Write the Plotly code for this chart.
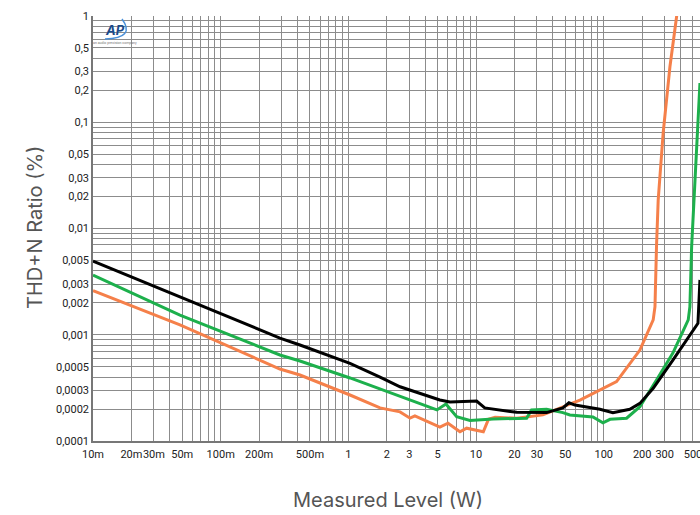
import plotly.graph_objects as go

# ---- data (Measured level in W, THD+N in %) ----
black_x = [0.01, 0.048, 0.291, 0.418, 1.03, 1.77, 2.54, 5.21, 6.25, 10.1, 11.7, 20.8, 35.7, 47.9, 53.4, 59.5, 93.4, 118, 160, 192, 244, 348, 547, 567]
black_y = [0.00494, 0.00227, 0.00093, 0.000801, 0.000538, 0.0004, 0.000324, 0.000243, 0.000233, 0.000238, 0.000205, 0.000186, 0.000185, 0.000205, 0.000229, 0.000218, 0.000199, 0.000185, 0.000199, 0.000226, 0.000313, 0.000578, 0.00128, 0.00328]

green_x = [0.01, 0.048, 0.291, 0.418, 1.03, 2.54, 4.94, 5.81, 7.05, 8.96, 13.6, 24.9, 27.2, 35.7, 47.9, 54.3, 82.3, 98.6, 112, 151, 192, 259, 348, 459, 473, 488, 518, 567]
green_y = [0.00365, 0.00153, 0.000645, 0.000566, 0.000392, 0.000265, 0.000196, 0.000223, 0.000169, 0.000156, 0.000161, 0.000164, 0.000196, 0.000199, 0.000185, 0.000176, 0.000168, 0.000148, 0.00016, 0.000164, 0.00021, 0.000375, 0.000673, 0.00138, 0.00184, 0.00674, 0.0286, 0.234]

orange_x = [0.01, 0.048, 0.291, 0.418, 1.03, 1.77, 2.54, 3.04, 3.32, 5.21, 6.03, 7.48, 8.44, 11.4, 12.5, 14.1, 20.8, 33.4, 57.4, 65.1, 126, 192, 244, 252, 259, 267, 292, 330, 372, 385]
orange_y = [0.0026, 0.00124, 0.000476, 0.000418, 0.000271, 0.000205, 0.000188, 0.000164, 0.000172, 0.000135, 0.000147, 0.000122, 0.000132, 0.000122, 0.00016, 0.000167, 0.000164, 0.000176, 0.000228, 0.000243, 0.000362, 0.000718, 0.00138, 0.00184, 0.00674, 0.0185, 0.0792, 0.333, 0.985, 1.3]

x_tick_vals = [0.01, 0.02, 0.03, 0.05, 0.1, 0.2, 0.5, 1, 2, 3, 5, 10, 20, 30, 50, 100, 200, 300, 500]
x_tick_text = ["10m", "20m", "30m", "50m", "100m", "200m", "500m", "1", "2", "3", "5", "10", "20", "30", "50", "100", "200", "300", "500"]
y_tick_vals = [1, 0.5, 0.3, 0.2, 0.1, 0.05, 0.03, 0.02, 0.01, 0.005, 0.003, 0.002, 0.001, 0.0005, 0.0003, 0.0002, 0.0001]
y_tick_text = ["1", "0,5", "0,3", "0,2", "0,1", "0,05", "0,03", "0,02", "0,01", "0,005", "0,003", "0,002", "0,001", "0,0005", "0,0003", "0,0002", "0,0001"]

grid_x = [k * 10 ** e for e in range(-2, 3) for k in range(1, 10)]
grid_y = [k * 10 ** e for e in range(-4, 0) for k in range(1, 10)] + [1]

GRID = "#8c8c8c"
FONT = "Roboto, Inter, sans-serif"
TFONT = "Inter, Roboto, sans-serif"

W, H = 700, 515
L, R, T, B = 93, 0, 16, 74
PW, PH = W - L - R, H - T - B


def px(xp):
    return (xp - L) / PW


def py(yp):
    return (H - B - yp) / PH


fig = go.Figure()
fig.add_trace(go.Scatter(x=orange_x, y=orange_y, mode="lines", line=dict(color="#f5804a", width=3), showlegend=False))
fig.add_trace(go.Scatter(x=green_x, y=green_y, mode="lines", line=dict(color="#1db04c", width=3), showlegend=False))
fig.add_trace(go.Scatter(x=black_x, y=black_y, mode="lines", line=dict(color="#000000", width=3), showlegend=False))

fig.update_xaxes(
    type="log", range=[-2, 2.754], automargin=False, tickangle=0, ticklabeloverflow="allow",
    tickmode="array", tickvals=x_tick_vals, ticktext=x_tick_text,
    showgrid=True, gridcolor=GRID, gridwidth=1,
    minor=dict(tickmode="array", tickvals=grid_x, showgrid=True, gridcolor=GRID, gridwidth=1, ticks=""),
    showline=True, linecolor="#777", linewidth=1.5,
    ticks="", ticklabelstandoff=2, tickfont=dict(size=11, color="#222", family=FONT), zeroline=False,
)
fig.update_yaxes(
    type="log", range=[-4, 0], automargin=False,
    tickmode="array", tickvals=y_tick_vals, ticktext=y_tick_text,
    showgrid=True, gridcolor=GRID, gridwidth=1,
    minor=dict(tickmode="array", tickvals=grid_y, showgrid=True, gridcolor=GRID, gridwidth=1, ticks=""),
    showline=True, linecolor="#777", linewidth=1.5,
    ticks="", tickfont=dict(size=11, color="#222", family=FONT), zeroline=False,
)

fig.update_layout(
    width=W, height=H,
    margin=dict(l=L, r=R, t=T, b=B),
    paper_bgcolor="white", plot_bgcolor="white",
    font=dict(family=FONT),
    annotations=[
        dict(text="THD+N Ratio (%)", x=px(35), y=py(228), xref="paper", yref="paper", showarrow=False,
             xanchor="center", yanchor="middle",
             textangle=-90, font=dict(size=20, color="#555", family=TFONT)),
        dict(text="Measured Level (W)", x=px(388), y=py(500), xref="paper", yref="paper", showarrow=False,
             xanchor="center", yanchor="middle",
             font=dict(size=20, color="#555", family=TFONT)),
        dict(text="<b><i>AP</i></b>", x=px(115), y=py(30), xref="paper", yref="paper", showarrow=False,
             xanchor="center", yanchor="middle",
             font=dict(size=13, color="#1b4b8a", family=TFONT)),
        dict(text="an audio precision company", x=px(115), y=py(43), xref="paper", yref="paper", showarrow=False,
             xanchor="center", yanchor="middle",
             font=dict(size=3.5, color="#777", family=FONT)),
    ],
    shapes=[
        dict(type="path", xref="paper", yref="paper",
             path=f"M {px(105)},{py(39)} Q {px(136)},{py(38)} {px(122)},{py(19)}",
             line=dict(color="#4a90d9", width=1.5)),
    ],
)

fig.write_html("out.html", config={"displayModeBar": False},
               post_script="document.body.style.margin='0';document.body.style.overflow='hidden';")
